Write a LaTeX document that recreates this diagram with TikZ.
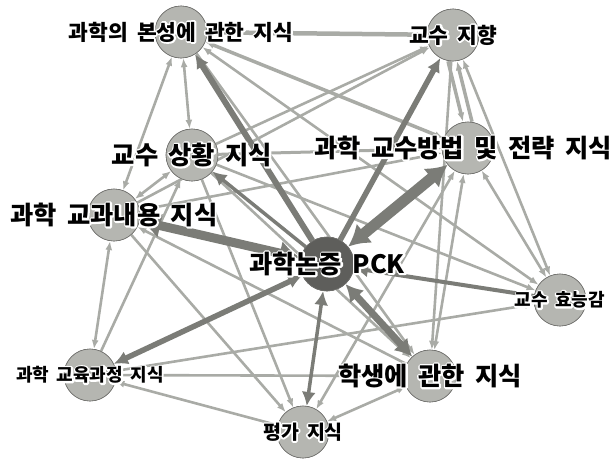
\documentclass[tikz,border=0pt]{standalone}
\usepackage{fontspec}
\setmainfont{Noto Sans CJK KR}[WordSpace=1.8]
\usetikzlibrary{arrows.meta}
\definecolor{lightedge}{HTML}{A9ABA6}
\definecolor{darkedge}{HTML}{7B7C77}
\definecolor{circfill}{HTML}{B5B6B1}
\definecolor{circdraw}{HTML}{6F6F6C}
\definecolor{pckfill}{HTML}{5E5E5B}
\newcommand\halo[1]{\rlap{\special{pdf:literal direct 2 Tr 3.4 w 1 1 1 RG 1 J 1 j}\color{white}#1\special{pdf:literal direct 0 Tr}}#1}
\tikzset{
  tipS/.tip={Latex[length=9pt,width=7pt]},
  tipM/.tip={Latex[length=14pt,width=14pt]},
  tipL/.tip={Latex[length=17pt,width=19pt]},
  tipXL/.tip={Latex[length=21pt,width=25pt]},
  lt/.style={draw=lightedge, line width=2.6pt},
  dk/.style={draw=darkedge},
  circ/.style={circle, draw=circdraw, fill=circfill, line width=0.6pt, minimum size=52pt, inner sep=0pt},
  pckcirc/.style={circ, fill=pckfill, minimum size=54pt},
  lbl/.style={inner sep=0pt, font=\bfseries, text=black},
  big/.style={lbl, font=\bfseries\fontsize{25.3}{28}\selectfont},
  mid/.style={lbl, font=\bfseries\fontsize{21.5}{24}\selectfont},
  small/.style={lbl, font=\bfseries\fontsize{18}{20}\selectfont},
  >=tipS
}
\begin{document}
\begin{tikzpicture}[x=1pt,y=-1pt]
\useasboundingbox (0,0) rectangle (615,458);
% circles
\node[circ] (nos) at (181,32) {};
\node[circ] (ori) at (453,35) {};
\node[circ] (sit) at (192,155) {};
\node[circ] (str) at (468,148) {};
\node[circ] (ck) at (114,215) {};
\node[pckcirc] (pck) at (327,264) {};
\node[circ] (eff) at (560,300) {};
\node[circ] (cur) at (90,375) {};
\node[circ] (stu) at (430,376) {};
\node[circ] (asm) at (303,432) {};
% light edges
\draw[lt,line width=4.5pt,->] (ori) -- (nos);
\draw[lt,<->] (nos) -- (sit);
\draw[lt,<->] (nos) -- (ck);
\draw[lt,line width=3.5pt,<->] (nos) -- (str);
\draw[lt,<->] (nos) -- (eff);
\draw[lt,->] (nos) -- (stu);
\draw[lt,line width=3.5pt,->] ([xshift=-5pt]ori.south) -- ([xshift=-5pt]str.north);
\draw[lt,line width=3.5pt,<-] ([xshift=4pt]ori.south) -- ([xshift=4pt]str.north);
\draw[lt,<->] (ori) -- (eff);
\draw[lt,->] (ori) -- (stu);
\draw[lt,->] (sit) -- (ori);
\draw[lt,->] (ck) -- (ori);
\draw[lt,line width=3pt,->] (sit) -- (str);
\draw[lt,<->] (sit) -- (ck);
\draw[lt,->] (sit) -- (eff);
\draw[lt,->] (sit) -- (stu);
\draw[lt,->] (sit) -- (asm);
\draw[lt,->] (cur) -- (sit);
\draw[lt,->] (ck) -- (str);
\draw[lt,<->] (ck) -- (cur);
\draw[lt,->] (ck) -- (asm);
\draw[lt,->] (stu) -- (ck);
\draw[lt,<->] (str) -- (stu);
\draw[lt,<->] (str) -- (eff);
\draw[lt,<->] (str) -- (asm);
\draw[lt,->] (cur) -- (eff);
\draw[lt,->] (cur) -- (stu);
\draw[lt,->] (asm) -- (cur);
\draw[lt,<->] (asm) -- (stu);
% dark edges
\draw[dk,line width=11pt,tipXL-tipXL] (pck) -- (str);
\draw[dk,line width=9pt,tipXL-tipXL] (pck) -- (ck);
\draw[dk,line width=7pt,tipL-tipL] (pck) -- (stu);
\draw[dk,line width=5.5pt,-tipM] (pck) -- (ori);
\draw[dk,line width=6pt,-tipM] (pck) -- (nos);
\draw[dk,line width=5.5pt,tipM-tipM] (pck) -- (cur);
\draw[dk,line width=3.5pt,-tipM] (pck) -- (sit);
\draw[dk,line width=3.5pt,tipM-tipM] (pck) -- (asm);
\draw[dk,line width=4pt,tipM-] (pck) -- (eff);
% redraw circles on top
\node[circ] at (nos) {};
\node[circ] at (ori) {};
\node[circ] at (sit) {};
\node[circ] at (str) {};
\node[circ] at (ck) {};
\node[pckcirc] at (pck) {};
\node[circ] at (eff) {};
\node[circ] at (cur) {};
\node[circ] at (stu) {};
\node[circ] at (asm) {};
% labels
\node[mid] (lnos) at (nos) {\halo{과학의 본성에 관한 지식}};
\node[mid] (lori) at (ori) {\halo{교수 지향}};
\node[big] (lsit) at (sit) {\halo{교수 상황 지식}};
\node[big] (lstr) at (463,148) {\halo{과학 교수방법 및 전략 지식}};
\node[big] (lck) at (ck) {\halo{과학 교과내용 지식}};
\node[big] (lpck) at (pck) {\halo{과학논증 PCK}};
\node[small] (leff) at (eff) {\halo{교수 효능감}};
\node[small] (lcur) at (cur) {\halo{과학 교육과정 지식}};
\node[big] (lstu) at (stu) {\halo{학생에 관한 지식}};
\node[small, font=\bfseries\fontsize{19.5}{22}\selectfont] (lasm) at (asm) {\halo{평가 지식}};
\end{tikzpicture}
\end{document}
